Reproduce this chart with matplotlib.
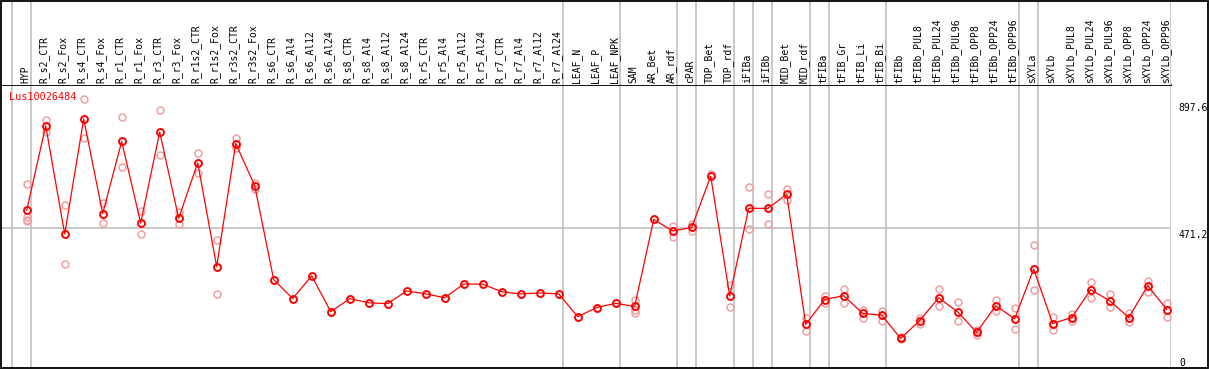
import matplotlib
matplotlib.use('Agg')
import matplotlib.pyplot as plt
from matplotlib import transforms

categories = [
    'HYP', 'R_s2_CTR', 'R_s2_Fox', 'R_s4_CTR', 'R_s4_Fox', 'R_r1_CTR', 'R_r1_Fox',
    'R_r3_CTR', 'R_r3_Fox', 'R_r1s2_CTR', 'R_r1s2_Fox', 'R_r3s2_CTR', 'R_r3s2_Fox',
    'R_s6_CTR', 'R_s6_Al4', 'R_s6_Al12', 'R_s6_Al24', 'R_s8_CTR', 'R_s8_Al4',
    'R_s8_Al12', 'R_s8_Al24', 'R_r5_CTR', 'R_r5_Al4', 'R_r5_Al12', 'R_r5_Al24',
    'R_r7_CTR', 'R_r7_Al4', 'R_r7_Al12', 'R_r7_Al24', 'LEAF_N', 'LEAF_P', 'LEAF_NPK',
    'SAM', 'AR_Bet', 'AR_rdf', 'cPAR', 'TOP_Bet', 'TOP_rdf', 'iFIBa', 'iFIBb',
    'MID_Bet', 'MID_rdf', 'tFIBa', 'tFIB_Gr', 'tFIB_Li', 'tFIB_Bi', 'tFIBb',
    'tFIBb_PUL8', 'tFIBb_PUL24', 'tFIBb_PUL96', 'tFIBb_OPP8', 'tFIBb_OPP24',
    'tFIBb_OPP96', 'sXYLa', 'sXYLb', 'sXYLb_PUL8', 'sXYLb_PUL24', 'sXYLb_PUL96',
    'sXYLb_OPP8', 'sXYLb_OPP24', 'sXYLb_OPP96',
]

mean_values = [
    532, 817, 452, 840, 521, 764, 489, 796, 505, 692, 342, 757, 615,
    298, 234, 311, 190, 234, 220, 217, 260, 250, 237, 283, 283, 257, 250, 253, 250,
    173, 204, 218, 208, 501, 462, 474, 647, 243, 539, 538, 586, 147,
    231, 244, 184, 178, 100, 160, 237, 189, 120, 210, 166,
    334, 150, 170, 264, 227, 170, 278, 197,
]

replicates = [
    [622, 510, 500, 495], [837, 795], [549, 352], [906, 776], [558, 488],
    [847, 679], [530, 451], [871, 719], [527, 486], [726, 657], [431, 248],
    [776, 741], [625, 603],
    [], [], [], [], [], [], [], [], [], [], [], [], [], [], [], [],
    [], [], [],
    [228, 195, 187], [], [480, 443], [486, 463], [655], [280, 207],
    [609, 470], [588, 485], [603, 566], [168, 125],
    [242, 218], [268, 219], [195, 170], [192, 159], [104, 97], [170, 150],
    [265, 209], [223, 159], [127, 112], [229, 192], [201, 133],
    [414, 264], [173, 127], [181, 159], [291, 237], [250, 205], [185, 154],
    [295, 255], [220, 173],
]

# indices after which a group separator is drawn (-1 = before first)
group_ends = [-1, 0, 28, 31, 34, 35, 37, 38, 39, 41, 42, 45, 52, 53, 60]

gene = 'Lus10026484'
ytick_values = [0, 471.2, 897.6]

W, H = 1209, 370
RED = '#ff0000'
PINK = '#f0a0a0'
GRAY = '#c0c0c0'
plt.rcParams['font.family'] = 'DejaVu Sans Mono'

fig = plt.figure(figsize=(W / 100, H / 100), dpi=100)


def fx(px):
    return px / W


def fy(py):
    return 1 - py / H


plot_left, plot_right = 1.3, 1170.7
plot_top, plot_bottom = 85, 368
step = 19.0
x0 = 26.7
xlim = ((plot_left - x0) / step, (plot_right - x0) / step)

ax = fig.add_axes([fx(plot_left), fy(plot_bottom), fx(plot_right) - fx(plot_left),
                   fy(plot_top) - fy(plot_bottom)])
ax_lab = fig.add_axes([fx(plot_left), fy(plot_top), fx(plot_right) - fx(plot_left),
                       1 - fy(plot_top)])

px_per_val = (plot_bottom - 228.3) / 471.2
ax.set_xlim(*xlim)
ax.set_ylim(0, (plot_bottom - plot_top) / px_per_val)
ax_lab.set_xlim(*xlim)
ax_lab.set_ylim(0, 1)

for a in (ax, ax_lab):
    a.set_xticks([])
    a.set_yticks([])
    for s in a.spines.values():
        s.set_visible(False)
    for k in group_ends:
        pos = k + 0.21
        a.axvline(pos, color=GRAY, lw=1.2, zorder=0)

ax.spines['top'].set_visible(True)
ax.spines['top'].set_linewidth(1.3)
ax.axhline(471.2, color=GRAY, lw=1.2, zorder=0)

xs = list(range(len(categories)))

for i, reps in enumerate(replicates):
    if reps:
        ax.plot([i] * len(reps), reps, 'o', ms=5, mfc='none', mec=PINK, mew=1.1,
                zorder=2, clip_on=False)

ax.plot(xs, mean_values, '-', color=RED, lw=0.9, zorder=3)
ax.plot(xs, mean_values, 'o', ms=5, mfc='none', mec=RED, mew=1.4, zorder=4)

for i, name in enumerate(categories):
    ax_lab.text(i - 0.08, 2 / 85, name, rotation=90, ha='center', va='bottom',
                fontsize=7, color='black')

fig.text(fx(9), fy(92), gene, color=RED, fontsize=7.3, ha='left', va='top')

# right-hand value labels
trans = transforms.blended_transform_factory(fig.transFigure, ax.transData)
for v in ytick_values:
    label = '0' if v == 0 else f'{v:.1f}'
    if v == 0:
        ax.text(fx(1179), v, label, transform=trans, fontsize=7, ha='left',
                va='bottom')
    else:
        ax.text(fx(1178.5), v - 1.5 / px_per_val, label, transform=trans, fontsize=7,
                ha='left', va='top')

# outer frame
fig.add_artist(plt.Rectangle((fx(1.3), fy(plot_bottom)), fx(1207.7) - fx(1.3),
                             fy(0.5) - fy(plot_bottom), transform=fig.transFigure,
                             fill=False, edgecolor='black', lw=1.3))

fig.savefig('out.png', dpi=100)
